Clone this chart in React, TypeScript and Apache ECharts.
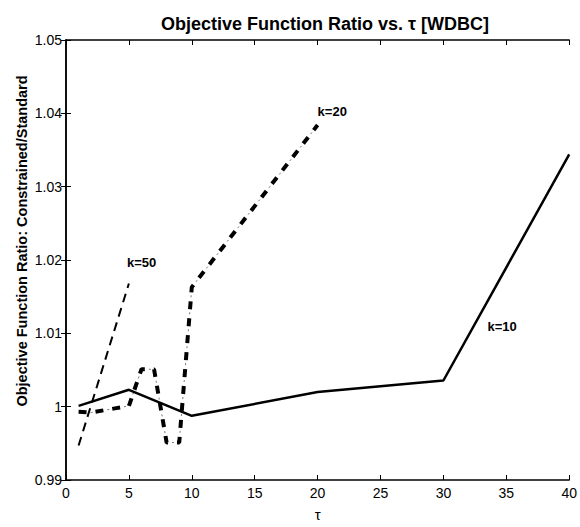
import React, { useEffect, useRef } from "react";
import * as echarts from "echarts";

const tauK10 = [1, 5, 10, 20, 30, 40];
const ratioK10 = [1.0001, 1.0023, 0.99875, 1.002, 1.00357, 1.0344];

const tauK20 = [1, 2, 3, 4, 5, 6, 7, 8, 9, 10, 20];
const ratioK20 = [0.9993, 0.9992, 0.9995, 0.9998, 1.0001, 1.0051, 1.0051, 0.9951, 0.9951, 1.0163, 1.0384];

const tauK50 = [1, 5];
const ratioK50 = [0.9947, 1.0168];

const labelNames = ["k=10", "k=20", "k=50"];
const labelTau = [33.5, 20.0, 4.85];
const labelRatio = [1.0109, 1.0402, 1.0196];

const xTicks = [0, 5, 10, 15, 20, 25, 30, 35, 40];
const yTicks = [0.99, 1.0, 1.01, 1.02, 1.03, 1.04, 1.05];

const FONT = "Liberation Sans, Arial, Helvetica, sans-serif";

const zip = (xs: number[], ys: number[]) => xs.map((x, i) => [x, ys[i]]);

const labelPoint = (i: number) => ({
  coord: [labelTau[i], labelRatio[i]],
  symbol: "rect",
  symbolSize: 0,
  label: {
    show: true,
    position: "right",
    distance: 0,
    formatter: labelNames[i],
    color: "#000",
    fontFamily: FONT,
    fontWeight: "bold",
    fontSize: 13,
  },
});

export default function App() {
  const ref = useRef<HTMLDivElement>(null);
  useEffect(() => {
    if (!ref.current) return;
    const chart = echarts.init(ref.current, null, { renderer: "svg" });
    const axisLine = { show: true, lineStyle: { color: "#000", width: 1.5 } };
    const axisTick = { show: true, inside: true, length: 5, lineStyle: { color: "#000", width: 1 } };
    const xMin = xTicks[0];
    const xMax = xTicks[xTicks.length - 1];
    const yMin = yTicks[0];
    const yMax = yTicks[yTicks.length - 1];
    const option: any = {
      animation: false,
      backgroundColor: "#fff",
      title: {
        text: "Objective Function Ratio vs. τ [WDBC]",
        left: 320,
        textAlign: "center",
        top: 10,
        textStyle: { fontFamily: FONT, fontWeight: "bold", fontSize: 18, color: "#000" },
      },
      grid: { left: 66, top: 40, right: 8, bottom: 40, containLabel: false },
      xAxis: [
        {
          type: "value",
          min: xMin,
          max: xMax,
          interval: 5,
          position: "bottom",
          axisLine,
          axisTick,
          splitLine: { show: false },
          axisLabel: { color: "#000", fontFamily: FONT, fontSize: 14, margin: 6 },
          name: "τ",
          nameLocation: "middle",
          nameGap: 27,
          nameTextStyle: { color: "#000", fontFamily: FONT, fontSize: 15 },
        },
        {
          type: "value",
          min: xMin,
          max: xMax,
          interval: 5,
          position: "top",
          axisLine,
          axisTick,
          splitLine: { show: false },
          axisLabel: { show: false },
        },
      ],
      yAxis: [
        {
          type: "value",
          min: yMin,
          max: yMax,
          interval: 0.01,
          position: "left",
          axisLine,
          axisTick,
          splitLine: { show: false },
          axisLabel: {
            color: "#000",
            fontFamily: FONT,
            fontSize: 14,
            margin: 4,
            formatter: (v: number) => String(+v.toFixed(2)),
          },
        },
        {
          type: "value",
          min: yMin,
          max: yMax,
          interval: 0.01,
          position: "right",
          axisLine,
          axisTick,
          splitLine: { show: false },
          axisLabel: { show: false },
        },
      ],
      graphic: [
        {
          type: "text",
          x: 22,
          y: 241,
          rotation: Math.PI / 2,
          style: {
            text: "Objective Function Ratio: Constrained/Standard",
            fill: "#000",
            font: `bold 14.5px ${FONT}`,
            textAlign: "center",
            textVerticalAlign: "middle",
          },
        },
      ],
      series: [
        {
          name: "k=10",
          type: "line",
          data: zip(tauK10, ratioK10),
          showSymbol: false,
          symbol: "none",
          lineStyle: { color: "#000", width: 2.5, type: "solid" },
          markPoint: { silent: true, data: [labelPoint(0)] },
          z: 3,
        },
        {
          name: "k=20",
          type: "line",
          data: zip(tauK20, ratioK20),
          showSymbol: false,
          symbol: "none",
          lineStyle: { color: "#000", width: 4, type: [8, 9], cap: "butt" },
          markPoint: { silent: true, data: [labelPoint(1)] },
          z: 2,
        },
        {
          name: "k=20 dots",
          type: "line",
          data: zip(tauK20, ratioK20),
          showSymbol: false,
          symbol: "none",
          lineStyle: { color: "#777", width: 1, type: [2, 15], dashOffset: 5, cap: "butt" },
          z: 2,
        },
        {
          name: "k=50",
          type: "line",
          data: zip(tauK50, ratioK50),
          showSymbol: false,
          symbol: "none",
          lineStyle: { color: "#000", width: 2, type: [9, 6], cap: "butt" },
          markPoint: { silent: true, data: [labelPoint(2)] },
          z: 2,
        },
      ],
    };
    chart.setOption(option);
    return () => chart.dispose();
  }, []);
  return (
    <div
      ref={ref}
      style={{ position: "absolute", left: 0, top: 0, width: 580, height: 527, background: "#fff" }}
    />
  );
}
